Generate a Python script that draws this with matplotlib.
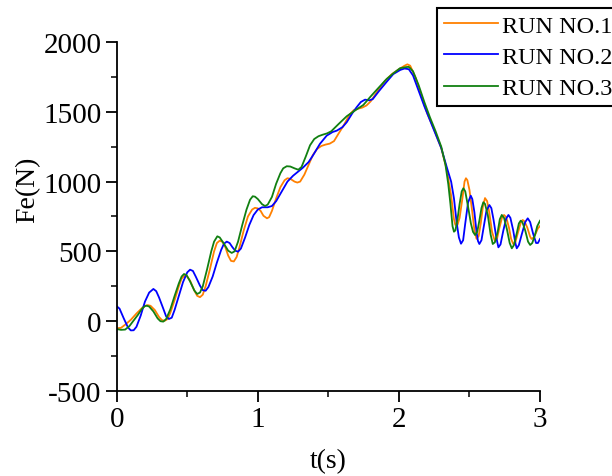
import matplotlib

matplotlib.use("Agg")
import matplotlib.pyplot as plt
from matplotlib.ticker import MultipleLocator

# values (t in s, Fe in N)
t_run1 = [0.00, 0.03, 0.06, 0.10, 0.14, 0.18, 0.20, 0.22, 0.24, 0.27, 0.30, 0.32, 0.34, 0.36, 0.38,
          0.41, 0.44, 0.46, 0.48, 0.50, 0.52, 0.55, 0.57, 0.59, 0.61, 0.63, 0.66, 0.69, 0.71, 0.73,
          0.75, 0.77, 0.79, 0.81, 0.83, 0.85, 0.87, 0.90, 0.93, 0.96, 0.98, 1.00, 1.02, 1.04, 1.065,
          1.08, 1.10, 1.13, 1.16, 1.19, 1.21, 1.23, 1.26, 1.28, 1.30, 1.33, 1.36, 1.39, 1.42, 1.45,
          1.48, 1.51, 1.54, 1.57, 1.61, 1.65, 1.68, 1.71, 1.74, 1.77, 1.80, 1.85, 1.90, 1.95, 2.00,
          2.04, 2.06, 2.08, 2.12, 2.16, 2.20, 2.25, 2.30, 2.34, 2.37, 2.39, 2.40, 2.415, 2.43, 2.45,
          2.465, 2.475, 2.485, 2.50, 2.52, 2.535, 2.55, 2.565, 2.58, 2.595, 2.61, 2.625, 2.64, 2.66,
          2.68, 2.695, 2.71, 2.73, 2.745, 2.76, 2.78, 2.795, 2.81, 2.825, 2.845, 2.865, 2.877, 2.89,
          2.91, 2.93, 2.94, 2.955, 2.97, 2.985, 3.00]
fe_run1 = [-50, -48, -25, 10, 55, 95, 110, 115, 110, 80, 30, 8, 3, 15, 60,
           150, 250, 305, 325, 320, 290, 220, 182, 172, 190, 250, 370, 500, 560, 577,
           568, 530, 470, 432, 428, 460, 530, 650, 750, 800, 812, 808, 790, 755, 737,
           745, 790, 880, 960, 1010, 1024, 1020, 1000, 993, 1000, 1050, 1120, 1190, 1234, 1255,
           1265, 1272, 1290, 1340, 1405, 1480, 1512, 1522, 1530, 1545, 1575, 1650, 1720, 1770, 1805,
           1830, 1840, 1830, 1740, 1610, 1490, 1370, 1240, 1080, 900, 730, 690, 690, 740, 880,
           1000, 1024, 1010, 940, 780, 650, 590, 610, 700, 820, 882, 860, 780, 640,
           574, 590, 660, 740, 761, 745, 670, 590, 553, 565, 640, 710, 725, 715,
           670, 605, 589, 600, 630, 665, 682]

t_run2 = [0.00, 0.02, 0.05, 0.08, 0.10, 0.12, 0.14, 0.17, 0.20, 0.23, 0.26, 0.28, 0.30, 0.33, 0.35,
          0.37, 0.39, 0.41, 0.44, 0.47, 0.50, 0.52, 0.54, 0.56, 0.59, 0.61, 0.63, 0.65, 0.68, 0.71,
          0.74, 0.76, 0.78, 0.80, 0.82, 0.84, 0.86, 0.88, 0.91, 0.94, 0.97, 1.00, 1.03, 1.07, 1.10,
          1.13, 1.17, 1.21, 1.25, 1.29, 1.32, 1.36, 1.39, 1.44, 1.488, 1.53, 1.56, 1.60, 1.63, 1.67,
          1.70, 1.73, 1.76, 1.79, 1.814, 1.86, 1.91, 1.96, 2.01, 2.04, 2.07, 2.10, 2.14, 2.18, 2.22,
          2.26, 2.30, 2.34, 2.37, 2.39, 2.41, 2.425, 2.44, 2.455, 2.47, 2.49, 2.509, 2.52, 2.535, 2.55,
          2.56, 2.57, 2.585, 2.60, 2.62, 2.641, 2.655, 2.67, 2.69, 2.705, 2.72, 2.74, 2.76, 2.776,
          2.79, 2.81, 2.825, 2.835, 2.85, 2.87, 2.895, 2.913, 2.93, 2.95, 2.972, 2.985, 3.00]
fe_run2 = [107, 90, 20, -45, -66, -65, -40, 40, 140, 205, 231, 215, 170, 90, 35,
           16, 25, 80, 180, 280, 350, 369, 360, 320, 255, 222, 218, 245, 320, 420,
           510, 555, 570, 560, 530, 505, 498, 520, 600, 690, 760, 800, 816, 816, 825,
           860, 930, 1000, 1042, 1075, 1100, 1140, 1186, 1270, 1329, 1355, 1365, 1390, 1425, 1490,
           1532, 1570, 1587, 1582, 1590, 1650, 1711, 1770, 1800, 1810, 1805, 1760, 1650, 1540, 1440,
           1340, 1240, 1100, 1000, 880, 700, 600, 555, 580, 700, 850, 899, 875, 780, 640,
           575, 553, 580, 670, 790, 832, 810, 730, 600, 529, 550, 650, 735, 761,
           740, 650, 560, 522, 545, 620, 710, 737, 710, 630, 560, 560, 589]

t_run3 = [0.00, 0.03, 0.06, 0.09, 0.12, 0.15, 0.18, 0.20, 0.213, 0.23, 0.26, 0.29, 0.31, 0.33, 0.35,
          0.38, 0.41, 0.44, 0.46, 0.477, 0.495, 0.52, 0.55, 0.57, 0.59, 0.61, 0.64, 0.67, 0.69, 0.713,
          0.73, 0.76, 0.79, 0.815, 0.835, 0.86, 0.89, 0.92, 0.945, 0.964, 0.98, 1.00, 1.03, 1.051, 1.07,
          1.10, 1.13, 1.16, 1.18, 1.205, 1.23, 1.26, 1.287, 1.31, 1.34, 1.37, 1.40, 1.43, 1.46, 1.49,
          1.52, 1.57, 1.63, 1.69, 1.748, 1.80, 1.843, 1.913, 1.96, 2.008, 2.05, 2.07, 2.10, 2.14, 2.18,
          2.22, 2.26, 2.30, 2.33, 2.35, 2.365, 2.38, 2.39, 2.40, 2.415, 2.43, 2.445, 2.457, 2.47, 2.49,
          2.51, 2.525, 2.54, 2.555, 2.57, 2.585, 2.598, 2.61, 2.63, 2.65, 2.665, 2.68, 2.70, 2.715,
          2.729, 2.745, 2.765, 2.785, 2.80, 2.815, 2.835, 2.85, 2.863, 2.875, 2.895, 2.915, 2.93,
          2.945, 2.965, 2.98, 3.00]
fe_run3 = [-56, -62, -60, -35, 5, 45, 90, 108, 111, 105, 70, 20, 0, -3, 15,
           85, 180, 270, 320, 338, 330, 285, 220, 195, 205, 250, 370, 500, 570, 608,
           600, 555, 505, 489, 500, 570, 690, 800, 870, 895, 892, 875, 838, 825, 835,
           890, 985, 1060, 1095, 1110, 1108, 1095, 1085, 1105, 1180, 1260, 1305, 1325, 1336, 1345,
           1360, 1410, 1468, 1510, 1549, 1610, 1658, 1735, 1775, 1812, 1820, 1822, 1790, 1690, 1570,
           1460, 1360, 1250, 1120, 980, 840, 680, 641, 650, 730, 840, 930, 952, 930, 820,
           700, 640, 617, 640, 720, 810, 852, 840, 760, 620, 553, 565, 640, 730,
           761, 740, 660, 560, 522, 545, 630, 700, 720, 710, 650, 570, 546,
           560, 620, 680, 720]

labels = ["RUN NO.1", "RUN NO.2", "RUN NO.3"]
colors = ["#ff8000", "#0000ff", "#118011"]

plt.rcParams["font.family"] = ["Liberation Serif", "DejaVu Serif"]
plt.rcParams["axes.unicode_minus"] = False

fig = plt.figure(figsize=(6.12, 4.77), dpi=100)
ax = fig.add_axes([0.1907, 0.1782, 0.6917, 0.7317])

series = [(t_run1, fe_run1), (t_run2, fe_run2), (t_run3, fe_run3)]
for (t, fe), label, color in zip(series, labels, colors):
    ax.plot(t, fe, color=color, linewidth=1.3, label=label, solid_joinstyle="round")

ax.set_xlim(0, 3)
ax.set_ylim(-500, 2000)
ax.xaxis.set_major_locator(MultipleLocator(1))
ax.xaxis.set_minor_locator(MultipleLocator(0.5))
ax.yaxis.set_major_locator(MultipleLocator(500))
ax.yaxis.set_minor_locator(MultipleLocator(250))

for side in ("top", "right"):
    ax.spines[side].set_visible(False)
for side in ("left", "bottom"):
    ax.spines[side].set_linewidth(1.3)

ax.tick_params(which="major", direction="out", length=8, width=1.3, labelsize=21, pad=3)
ax.tick_params(which="minor", direction="out", length=4.5, width=1.1)

ax.set_xlabel("t(s)", fontsize=20)
ax.set_ylabel("Fe(N)", fontsize=20)
ax.xaxis.set_label_coords(0.5, -0.163)
ax.yaxis.set_label_coords(-0.18, 0.58)

leg = ax.legend(loc="upper left", bbox_to_anchor=(0.757, 1.097), fontsize=17.5,
                frameon=True, fancybox=False, edgecolor="black", framealpha=1,
                handlelength=2.25, handletextpad=0.15, labelspacing=0.38,
                borderpad=0.27, borderaxespad=0)
leg.get_frame().set_linewidth(1.5)

fig.savefig("out.png", dpi=100)
